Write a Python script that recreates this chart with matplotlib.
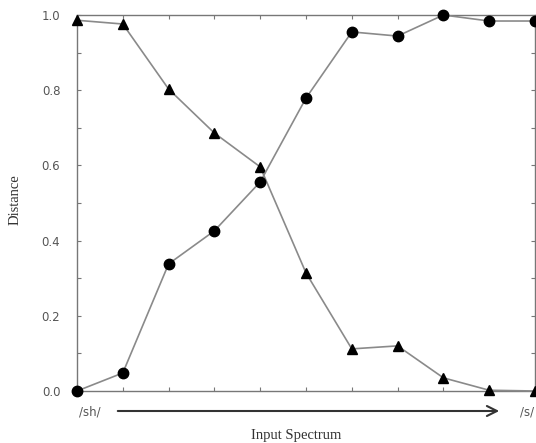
import matplotlib
matplotlib.use("Agg")
import matplotlib.pyplot as plt
import numpy as np

x = list(range(11))
tri = [0.986, 0.976, 0.803, 0.686, 0.596, 0.314, 0.112, 0.120, 0.035, 0.002, 0.0]
circ = [0.0, 0.048, 0.338, 0.426, 0.556, 0.779, 0.955, 0.944, 1.0, 0.984, 0.984]
yticks = [0.0, 0.2, 0.4, 0.6, 0.8, 1.0]
ytick_labels = ["0.0", "0.2", "0.4", "0.6", "0.8", "1.0"]

fig = plt.figure(figsize=(5.36, 4.43), dpi=100)
ax = fig.add_axes([77/536, 1-391/443, (535-77)/536, (391-15)/443])

lc = "#8a8a8a"
ax.plot(x, tri, color=lc, lw=1.2, marker="^", ms=7, mfc="black", mec="black", clip_on=False, zorder=3)
ax.plot(x, circ, color=lc, lw=1.2, marker="o", ms=7.5, mfc="black", mec="black", clip_on=False, zorder=3)

ax.set_xlim(0, 10)
ax.set_ylim(0, 1.0)
ax.set_xticks(x)
ax.set_xticklabels([])
ax.set_yticks(yticks)
ax.set_yticklabels(ytick_labels)
ax.set_yticks(np.arange(0.1, 1.0, 0.2), minor=True)
for s in ax.spines.values():
    s.set_color("#777777")
    s.set_linewidth(1.0)
ax.tick_params(axis="both", which="both", direction="in", top=True, right=True,
               color="#777777", length=3, width=0.8)
ax.tick_params(axis="y", which="major", labelsize=8.5, labelcolor="#555555", pad=12)
ax.tick_params(axis="x", which="major", labelsize=8.5, labelcolor="#555555")

fig.text(15/536, 1-200/443, "Distance", rotation=90, ha="center", va="center",
         family="Liberation Serif", fontsize=10.5, color="#333333")
fig.text(296/536, 1-435/443, "Input Spectrum", ha="center", va="center",
         family="Liberation Serif", fontsize=10.5, color="#333333")
fig.text(90/536, 1-412/443, "/sh/", ha="center", va="center",
         fontsize=8.5, color="#555555")
fig.text(520/536, 1-412/443, "/s/", ha="left", va="center",
         fontsize=8.5, color="#555555")
ax.annotate("", xy=(502/536, 1-411/443), xytext=(115/536, 1-411/443),
            xycoords="figure fraction", textcoords="figure fraction",
            arrowprops=dict(arrowstyle="->", color="#333333", lw=1.5,
                            mutation_scale=18))

fig.savefig("out.png", dpi=100, facecolor="white")
